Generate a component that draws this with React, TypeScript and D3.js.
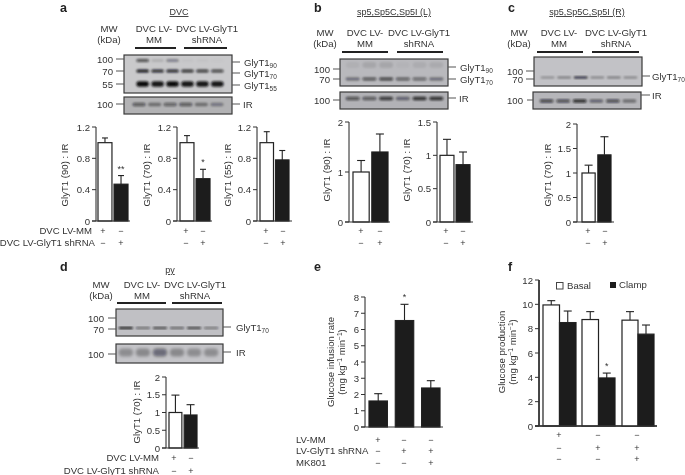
import React from "react";
import * as d3 from "d3";

// ---------- data ----------
const a1Values = [1.0, 0.47]; const a1Tops = [1.06, 0.58];
const a2Values = [1.0, 0.54]; const a2Tops = [1.09, 0.66];
const a3Values = [1.0, 0.78]; const a3Tops = [1.14, 0.9];
const b1Values = [1.0, 1.4]; const b1Tops = [1.23, 1.76];
const b2Values = [1.0, 0.86]; const b2Tops = [1.24, 1.05];
const cValues = [1.0, 1.37]; const cTops = [1.16, 1.74];
const dValues = [1.0, 0.93]; const dTops = [1.49, 1.22];
const eValues = [1.6, 6.55, 2.4]; const eTops = [2.05, 7.55, 2.85];
const fValues = [9.95, 8.5, 8.75, 3.95, 8.7, 7.55]; const fTops = [10.3, 9.45, 9.4, 4.35, 9.4, 8.3];

const ticks12 = [0, 0.4, 0.8, 1.2];
const ticks2 = [0, 1, 2];
const ticks15 = [0, 0.5, 1, 1.5];
const ticksC = [0, 0.5, 1, 1.5, 2];
const ticksE = [0, 1, 2, 3, 4, 5, 6, 7, 8];
const ticksF = [0, 2, 4, 6, 8, 10, 12];

const signs2 = [["+", "−"], ["−", "+"]];
const signsE = [["+", "−", "−"], ["−", "+", "+"], ["−", "−", "+"]];
const signLabelsA = ["DVC LV-MM", "DVC LV-GlyT1 shRNA"];
const signLabelsE = ["LV-MM", "LV-GlyT1 shRNA", "MK801"];

const aBlot90 = [0.65, 0.12, 0.35, 0.03, 0.03, 0.02];
const aBlot70 = [0.95, 0.85, 0.85, 0.8, 0.75, 0.7];
const aBlot55 = [1, 0.95, 1, 0.95, 0.95, 0.95];
const aBlotIR = [0.55, 0.4, 0.5, 0.55, 0.4, 0.35];
const bBlot90 = [0.05, 0.1, 0.1, 0.03, 0.07, 0.08];
const bBlot70 = [0.45, 0.6, 0.7, 0.55, 0.5, 0.45];
const bBlotIR = [0.6, 0.55, 0.75, 0.45, 0.8, 0.8];
const cBlot70 = [0.3, 0.4, 0.85, 0.35, 0.4, 0.35];
const cBlotIR = [0.65, 0.6, 0.8, 0.45, 0.6, 0.4];
const dBlot70 = [1, 0.55, 0.75, 0.6, 0.8, 0.5];
const dBlotIR = [0.28, 0.3, 0.45, 0.3, 0.28, 0.28];

const FONT = "'Liberation Sans', Arial, sans-serif";
const INK = "#333";
const FS = 9.6;

// ---------- helpers ----------
function Bars({ axisX, endX, top, bottom, domainMax, ticks, values, tops, barX0, barX1, inner = 0.13, fills, capW = 3, stars, label, labelX, labelCY }: any) {
  const y = d3.scaleLinear().domain([0, domainMax]).range([bottom, top]);
  const x = d3.scaleBand<number>().domain(values.map((_: number, i: number) => i)).range([barX0, barX1]).paddingInner(inner);
  return (
    <g>
      {values.map((v: number, i: number) => {
        const cx = x(i)! + x.bandwidth() / 2;
        return (
          <g key={i}>
            <line x1={cx} x2={cx} y1={y(v)} y2={y(tops[i])} stroke="#222" strokeWidth={1.1} />
            <line x1={cx - capW} x2={cx + capW} y1={y(tops[i])} y2={y(tops[i])} stroke="#222" strokeWidth={1.1} />
            <rect x={x(i)} y={y(v)} width={x.bandwidth()} height={bottom - y(v)} fill={fills[i]} stroke="#222" strokeWidth={1.2} />
            {stars && stars[i] ? (
              <text x={cx} y={y(tops[i]) - 4} fontSize={9} textAnchor="middle" fill={INK}>{stars[i]}</text>
            ) : null}
          </g>
        );
      })}
      <line x1={axisX} x2={axisX} y1={top} y2={bottom} stroke={INK} strokeWidth={1.1} />
      <line x1={axisX - 4} x2={endX} y1={bottom} y2={bottom} stroke={INK} strokeWidth={1.1} />
      {ticks.map((t: number) => (
        <g key={t}>
          <line x1={axisX - 4} x2={axisX} y1={y(t)} y2={y(t)} stroke={INK} strokeWidth={1} />
          <text x={axisX - 6} y={y(t) + 3.5} textAnchor="end" fontSize={FS} fill={INK}>{t}</text>
        </g>
      ))}
      {label.map((l: any, i: number) => (
        <text key={i} transform={`translate(${labelX[i]},${labelCY}) rotate(-90)`} textAnchor="middle" fontSize={FS} fill={INK}>{l}</text>
      ))}
    </g>
  );
}

function Signs({ rows, xs, ys, labels, labelX, anchor = "end" }: any) {
  return (
    <g fontSize={FS} fill={INK}>
      {rows.map((r: string[], i: number) => (
        <g key={i}>
          {labels ? <text x={labelX[i]} y={ys[i] + 3.5} textAnchor={anchor}>{labels[i]}</text> : null}
          {r.map((s, j) => <text key={j} x={xs[j]} y={ys[i] + 3.5} textAnchor="middle" fontSize={9}>{s}</text>)}
        </g>
      ))}
    </g>
  );
}

function Blot({ x, y, w, h, laneX0, laneX1, rows, fill = "#b4b4b6", id, blur = "bandBlur" }: any) {
  const lanes = d3.scaleBand<number>().domain(d3.range(6)).range([laneX0, laneX1]).padding(0.16);
  return (
    <g>
      <rect x={x} y={y} width={w} height={h} fill={fill} stroke="#3a3a3a" strokeWidth={1.2} />
      <g filter={`url(#${blur})`}>
        {rows.map((r: any, ri: number) =>
          r.vals.map((v: number, i: number) => (
            <rect key={`${id}${ri}-${i}`} x={lanes(i)!} y={r.y - r.ry} width={lanes.bandwidth()} height={r.ry * 2} rx={r.ry}
              fill="#0d0d10" opacity={v} />
          ))
        )}
      </g>
    </g>
  );
}

function Sub({ base, sub }: { base: string; sub?: string }) {
  return <>{base}{sub ? <tspan dy={2.5} fontSize={6.5}>{sub}</tspan> : null}</>;
}

function BlotLabels({ left, right, tickX0, tickX1, textEnd, rX0, rX1, rText }: any) {
  return (
    <g fontSize={FS} fill={INK}>
      {left.map((l: any, i: number) => (
        <g key={i}>
          <text x={textEnd} y={l.y + 3.5} textAnchor="end">{l.t}</text>
          <line x1={tickX0} x2={tickX1} y1={l.y} y2={l.y} stroke="#555" strokeWidth={1} />
        </g>
      ))}
      {right.map((r: any, i: number) => (
        <g key={i}>
          <line x1={rX0} x2={rX1} y1={r.y} y2={r.y} stroke="#555" strokeWidth={1} />
          <text x={rText} y={r.ty + 3.5}><Sub base={r.t} sub={r.s} /></text>
        </g>
      ))}
    </g>
  );
}

function Header({ mwX, y1, y2, c1, c2, barY, b1, b2 }: any) {
  return (
    <g fontSize={FS} fill={INK} textAnchor="middle">
      <text x={mwX} y={y1}>MW</text><text x={mwX} y={y2}>(kDa)</text>
      <text x={c1} y={y1}>DVC LV-</text><text x={c1} y={y2}>MM</text>
      <text x={c2} y={y1}>DVC LV-GlyT1</text><text x={c2} y={y2}>shRNA</text>
      <line x1={b1[0]} x2={b1[1]} y1={barY} y2={barY} stroke="#222" strokeWidth={1.8} />
      <line x1={b2[0]} x2={b2[1]} y1={barY} y2={barY} stroke="#222" strokeWidth={1.8} />
    </g>
  );
}

const Letter = ({ x, y, t }: any) => <text x={x} y={y} fontSize={12.5} fontWeight="bold" fill="#222">{t}</text>;
const Title = ({ x, y, t }: any) => <text x={x} y={y} fontSize={9} fill={INK} textAnchor="middle" textDecoration="underline">{t}</text>;

const W = "#fff"; const K = "#1c1c1c";
const rateLabel = (first: string) => [
  first,
  <>(mg kg<tspan dy={-3} fontSize={6.5}>−1</tspan><tspan dy={3}> min</tspan><tspan dy={-3} fontSize={6.5}>−1</tspan><tspan dy={3}>)</tspan></>,
];

export default function App() {
  return (
    <svg width={685} height={475} viewBox="0 0 685 475" fontFamily={FONT} style={{ position: "absolute", left: 0, top: 0, background: "#fff" }}>
      <defs>
        <filter id="bandBlur" x="-5%" y="-30%" width="110%" height="160%"><feGaussianBlur stdDeviation="0.9" /></filter>
        <filter id="wideBlur" x="-5%" y="-30%" width="110%" height="160%"><feGaussianBlur stdDeviation="1.6" /></filter>
        <filter id="soft" x="0" y="0" width="100%" height="100%"><feGaussianBlur stdDeviation="0.35" /></filter>
      </defs>
      <g filter="url(#soft)">
        {/* a */}
        <Letter x={60} y={12} t="a" />
        <Title x={179} y={15} t="DVC" />
        <Header mwX={109} y1={32} y2={43} c1={154} c2={207} barY={48} b1={[135, 176]} b2={[184, 227]} />
        <Blot id="a1" x={124} y={55} w={108} h={38} laneX0={134} laneX1={226} rows={[
          { y: 60.5, ry: 1.6, vals: aBlot90 }, { y: 71, ry: 1.6, vals: aBlot70 }, { y: 84, ry: 2.8, vals: aBlot55 }]} fill="#c9c9cb" />
        <Blot id="a2" x={124} y={97} w={108} h={17} laneX0={130} laneX1={226} rows={[{ y: 104.5, ry: 1.8, vals: aBlotIR }]} fill="#b2b2b4" />
        <BlotLabels textEnd={113} tickX0={116} tickX1={124} rX0={232} rX1={240} rText={244}
          left={[{ t: 100, y: 59 }, { t: 70, y: 71 }, { t: 55, y: 84 }]}
          right={[{ t: "GlyT1", s: "90", y: 62, ty: 62 }, { t: "GlyT1", s: "70", y: 73, ty: 73 }, { t: "GlyT1", s: "55", y: 85, ty: 85 }]} />
        <BlotLabels textEnd={113} tickX0={116} tickX1={124} rX0={232} rX1={240} rText={243}
          left={[{ t: 100, y: 104 }]} right={[{ t: "IR", y: 104, ty: 104 }]} />
        <Bars axisX={96} endX={130} top={127} bottom={221} domainMax={1.2} ticks={ticks12} values={a1Values} tops={a1Tops} barX0={98} barX1={128} fills={[W, K]} stars={["", "**"]} label={["GlyT1 (90) : IR"]} labelX={[68]} labelCY={175} />
        <Bars axisX={177} endX={212} top={127} bottom={221} domainMax={1.2} ticks={ticks12} values={a2Values} tops={a2Tops} barX0={180} barX1={210} fills={[W, K]} stars={["", "*"]} label={["GlyT1 (70) : IR"]} labelX={[150]} labelCY={175} />
        <Bars axisX={257} endX={292} top={127} bottom={221} domainMax={1.2} ticks={ticks12} values={a3Values} tops={a3Tops} barX0={260} barX1={289} fills={[W, K]} label={["GlyT1 (55) : IR"]} labelX={[231]} labelCY={175} />
        <Signs rows={signs2} xs={[103, 121]} ys={[230, 242]} labels={signLabelsA} labelX={[92, 95]} />
        <Signs rows={signs2} xs={[186, 203]} ys={[230, 242]} />
        <Signs rows={signs2} xs={[266, 283]} ys={[230, 242]} />

        {/* b */}
        <Letter x={314} y={12} t="b" />
        <Title x={394} y={15} t="sp5,Sp5C,Sp5I (L)" />
        <Header mwX={325} y1={36} y2={47} c1={365} c2={419} barY={52} b1={[342, 388]} b2={[397, 443]} />
        <Blot id="b1" x={340} y={59} w={108} h={27} laneX0={343} laneX1={446} rows={[
          { y: 65, ry: 3, vals: bBlot90 }, { y: 79, ry: 1.4, vals: bBlot70 }]} fill="#b9b9bd" />
        <Blot id="b2" x={340} y={92} w={108} h={17} laneX0={343} laneX1={446} rows={[{ y: 98.5, ry: 1.8, vals: bBlotIR }]} fill="#b2b2b6" />
        <BlotLabels textEnd={330} tickX0={333} tickX1={340} rX0={448} rX1={456} rText={460}
          left={[{ t: 100, y: 69 }, { t: 70, y: 79 }]}
          right={[{ t: "GlyT1", s: "90", y: 67, ty: 67 }, { t: "GlyT1", s: "70", y: 79, ty: 79 }]} />
        <BlotLabels textEnd={330} tickX0={333} tickX1={340} rX0={448} rX1={456} rText={459}
          left={[{ t: 100, y: 100 }]} right={[{ t: "IR", y: 98, ty: 98 }]} />
        <Bars axisX={349} endX={390} top={122} bottom={222} domainMax={2} ticks={ticks2} values={b1Values} tops={b1Tops} barX0={353} barX1={388} inner={0.14} capW={4} fills={[W, K]} label={["GlyT1 (90) : IR"]} labelX={[330]} labelCY={170} />
        <Bars axisX={437} endX={473} top={122} bottom={222} domainMax={1.5} ticks={ticks15} values={b2Values} tops={b2Tops} barX0={440} barX1={470} capW={4} fills={[W, K]} label={["GlyT1 (70) : IR"]} labelX={[410]} labelCY={170} />
        <Signs rows={signs2} xs={[361, 380]} ys={[230, 242]} />
        <Signs rows={signs2} xs={[446, 463]} ys={[230, 242]} />

        {/* c */}
        <Letter x={508} y={12} t="c" />
        <Title x={587} y={15} t="sp5,Sp5C,Sp5I (R)" />
        <Header mwX={519} y1={36} y2={47} c1={559} c2={616} barY={52} b1={[537, 583]} b2={[592, 639]} />
        <Blot id="c1" x={534} y={57} w={108} h={29} laneX0={538} laneX1={640} rows={[{ y: 77.5, ry: 1.1, vals: cBlot70 }]} fill="#c2c2c6" />
        <Blot id="c2" x={533} y={92} w={108} h={17} laneX0={537} laneX1={639} rows={[{ y: 101, ry: 1.8, vals: cBlotIR }]} fill="#b6b6ba" />
        <BlotLabels textEnd={523} tickX0={526} tickX1={534} rX0={642} rX1={650} rText={652}
          left={[{ t: 100, y: 71 }, { t: 70, y: 79 }]} right={[{ t: "GlyT1", s: "70", y: 76, ty: 76 }]} />
        <BlotLabels textEnd={523} tickX0={527} tickX1={533} rX0={641} rX1={650} rText={652}
          left={[{ t: 100, y: 100 }]} right={[{ t: "IR", y: 95, ty: 95 }]} />
        <Bars axisX={577} endX={614} top={124} bottom={222} domainMax={2} ticks={ticksC} values={cValues} tops={cTops} barX0={582} barX1={611} capW={4} inner={0.17} fills={[W, K]} label={["GlyT1 (70) : IR"]} labelX={[551]} labelCY={175} />
        <Signs rows={signs2} xs={[588, 605]} ys={[230, 242]} />

        {/* d */}
        <Letter x={60} y={271} t="d" />
        <Title x={170} y={273} t="py" />
        <Header mwX={101} y1={288} y2={299} c1={142} c2={195} barY={303} b1={[117, 166]} b2={[172, 222]} />
        <Blot id="d1" x={116} y={309} w={107} h={27} laneX0={116} laneX1={221} rows={[{ y: 328, ry: 1.1, vals: dBlot70 }]} fill="#c0c0c4" />
        <Blot id="d2" x={116} y={344} w={107} h={19} laneX0={116} laneX1={221} blur="wideBlur" rows={[{ y: 352.5, ry: 4, vals: dBlotIR }]} fill="#c4c4c8" />
        <BlotLabels textEnd={104} tickX0={108} tickX1={116} rX0={223} rX1={231} rText={236}
          left={[{ t: 100, y: 318 }, { t: 70, y: 329 }]} right={[{ t: "GlyT1", s: "70", y: 327, ty: 327 }]} />
        <BlotLabels textEnd={104} tickX0={108} tickX1={116} rX0={223} rX1={231} rText={236}
          left={[{ t: 100, y: 354 }]} right={[{ t: "IR", y: 352, ty: 352 }]} />
        <Bars axisX={166} endX={199} top={377} bottom={448} domainMax={2} ticks={ticksC} values={dValues} tops={dTops} barX0={169} barX1={197} capW={4} inner={0.15} fills={[W, K]} label={["GlyT1 (70) : IR"]} labelX={[140]} labelCY={412} />
        <Signs rows={signs2} xs={[174, 191]} ys={[457, 470]} labels={signLabelsA} labelX={[159, 159]} />

        {/* e */}
        <Letter x={314} y={271} t="e" />
        <Bars axisX={365} endX={443} top={297} bottom={427} domainMax={8} ticks={ticksE} values={eValues} tops={eTops} barX0={369} barX1={440} inner={0.3} capW={4} fills={[K, K, K]} stars={["", "*", ""]} label={rateLabel("Glucose infusion rate")} labelX={[334, 345]} labelCY={362} />
        <Signs rows={signsE} xs={[378, 404, 431]} ys={[439, 450, 462]} labels={signLabelsE} labelX={[296, 296, 296]} anchor="start" />

        {/* f */}
        <Letter x={508} y={271} t="f" />
        <Bars axisX={539} endX={657} top={280} bottom={426} domainMax={12} ticks={ticksF} values={fValues.slice(0, 2)} tops={fTops.slice(0, 2)} barX0={543} barX1={576} inner={0} capW={4} fills={[W, K]} label={rateLabel("Glucose production")} labelX={[505, 516]} labelCY={352} />
        <Bars axisX={539} endX={657} top={280} bottom={426} domainMax={12} ticks={[]} values={fValues.slice(2, 4)} tops={fTops.slice(2, 4)} barX0={582} barX1={615} inner={0} capW={4} fills={[W, K]} stars={["", "*"]} label={[]} labelX={[]} labelCY={352} />
        <Bars axisX={539} endX={657} top={280} bottom={426} domainMax={12} ticks={[]} values={fValues.slice(4, 6)} tops={fTops.slice(4, 6)} barX0={622} barX1={654} inner={0} capW={4} fills={[W, K]} label={[]} labelX={[]} labelCY={352} />
        <rect x={556.5} y={282.5} width={6.5} height={6.5} fill="#fff" stroke="#444" />
        <text x={567} y={289} fontSize={FS} fill={INK}>Basal</text>
        <rect x={610} y={282} width={6} height={6} fill={K} />
        <text x={619} y={288} fontSize={FS} fill={INK}>Clamp</text>
        <Signs rows={signsE} xs={[559, 598, 637]} ys={[434, 447, 458]} />
      </g>
    </svg>
  );
}
